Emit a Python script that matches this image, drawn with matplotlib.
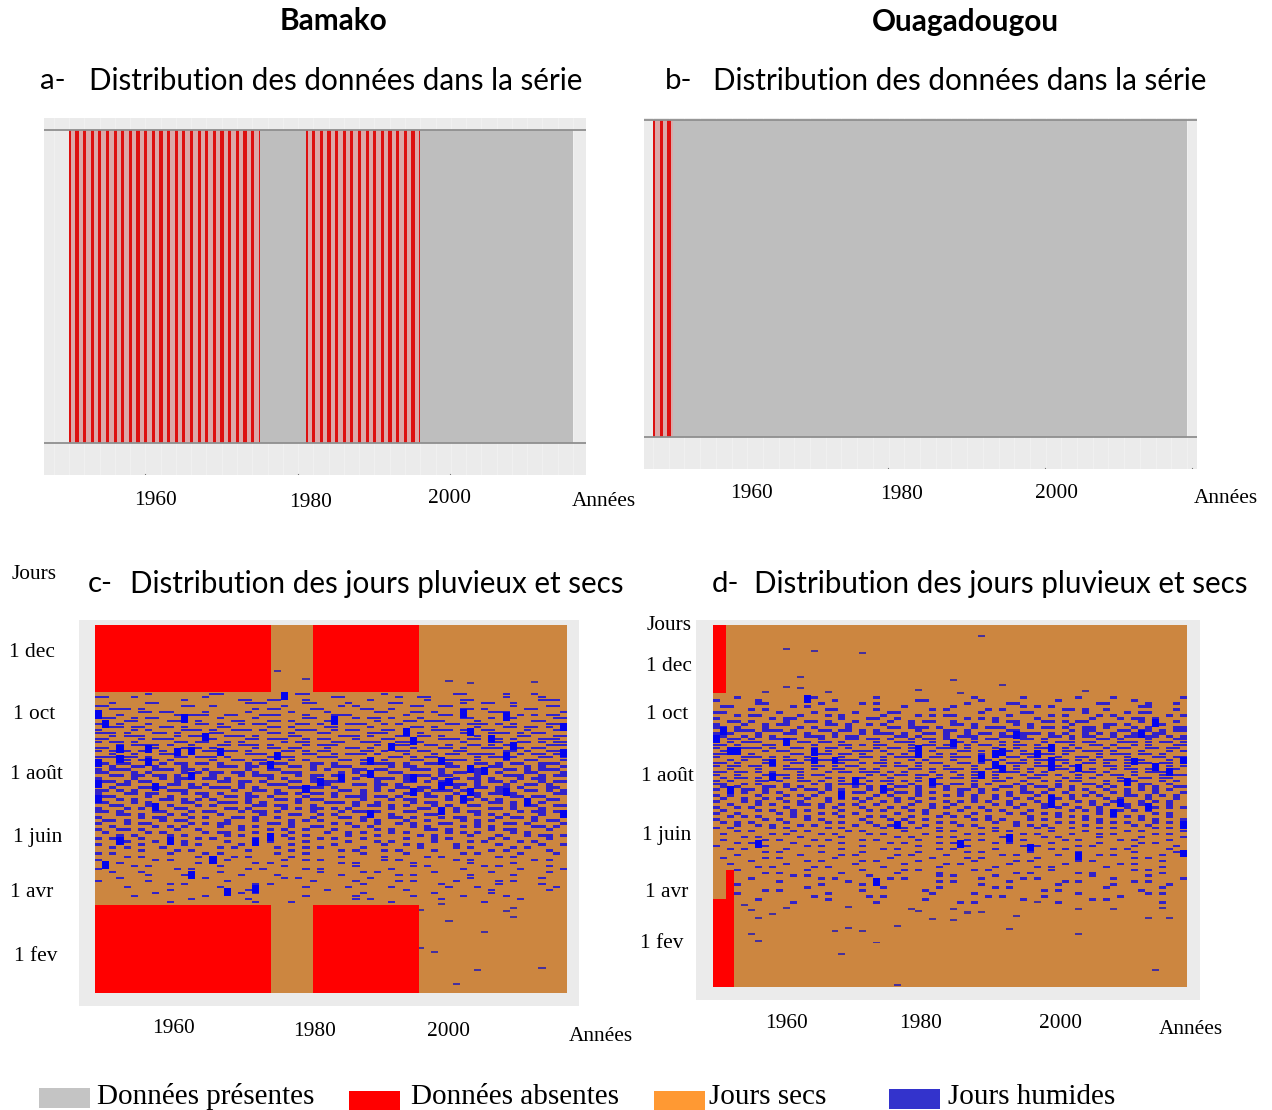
import numpy as np
import matplotlib
matplotlib.use("Agg")
import matplotlib.pyplot as plt
from matplotlib.patches import Rectangle

W, H = 1272, 1110
FIRST_YEAR = 1950

# Panels a, b : periods where the series has seasonal gaps (start, end)
bamako_gap_runs = [(1950, 1975), (1981, 1996)]
bamako_last_year = 2016
ouaga_gap_runs = [(1950, 1952.6)]
ouaga_last_year = 2018

# Panel c/d: missing blocks as (year start, year end, day start, day end)
bamako_missing = [(1950, 1974.6, 0, 88), (1950, 1974.6, 299, 366),
                  (1980.5, 1995.3, 0, 88), (1980.5, 1995.3, 299, 366)]
ouaga_missing = [(1950, 1951.9, 0, 89), (1950, 1951.9, 297, 366), (1951.9, 1953, 0, 118)]

# Wet days read as a grid: one row = 3 days, one column = one year
bamako_start_day = 299
bamako_wet = [
".......#........##..........##..........#.........##.....#...#....",
"##...#.........#.................##.......#..##..........#....#...",
"............#.......##..##...#........#.......#....##.........###.",
"..#....##............###.....##....#.....##........#..##..#.......",
"##..........##..#.........#.......#.#.......##..##........#....##.",
"..###.#...............#.##....##.....##..#.........##.#.....##....",
"#.....##.##....#.....#.....#....#......##...##.#.......###.......#",
"...#.......#.###..##...###...#...###.......#....##.#.......#.#.##.",
"###..#.##........#....#......##.....#.##.#...#.....##..#.##.....##",
"....##....###.#....##...##.#....##.....#...##.###....#.......##...",
"##.#...#......##.#..#.##....##.#...###..#.#......##.###.#.#....###",
"..##.##..##.#....##.....##.#....##....#.....##.#.....#...##.##.#..",
"#....#.#....###.#..###.#....###..#.##...##.#...###.#..##....#...##",
"###.#...##.#....##......##.#...##.....###....#.....##..###.#.##...",
"..#.###....#.##...###.#....##.....###.#...##.##.#....#.....##...##",
"##....#.###.....#....##.###..#.##...#...##......###.##.##.#...###.",
"#.##.#.....##.##..#.#.....#.##...##..###..##.#.....#....#..##.#.##",
"...#.####.#..#...##.###.#....#.###.....#.###..##.#..##.#.##....###",
"##.#....#...###.#.....#.##.##...#..##.#.....#...##.#..###..#.##...",
"#.###.##.#.....##.##.#....##.#.##....##.#.##.##...##.....##.#..###",
"..#..#...###.#...#...###.#...##..#.###.#...#...#.##.####...#.##.##",
"###.##.#...##.###.#.....#.##...###.......##.#.##.....#.##.#...##.#",
"#...#.###.#.....#..##.##...#.#....##.##.#...##...###.#...#..##...#",
"##.##....#.##.##.#...#.####...##.#...#.###.#..##.#...##.#.##..###.",
"..#..##.#...#....###.##....##.#..###.....#.##....##.#..##...#.#..#",
"#.###...###.##.#.....#..##....#.#...##.##...###.#...##...##.#.###.",
"##...#.#....#.#.##.##.#...###.....#.#.#..##.....#.##.##.#...##...#",
"..##.##.##.#....#...#.###...#.##.##..##....#.##.##...#...###..#.##",
"#....#...#.###.##.#.....#.#...#...#.#..###.#...#..#.##.#...#.##...",
"###.#.##...#.....##.##.#...##.#.###....#...##.#.##...#.##.#...#.##",
"#..##...#.##.#.#....#...###.....#...##.##.#.....#.##.#...#..##.#..",
"..#...##.#...##.###.#.#....##.##.#.....#..##.##...#..##.##.#...##.",
"##.#.#....###......#..##.#...#....##.#.#.#...#.###.#....#...##.#.#",
"#...##.##...#.##.#...#...##.#.##.#...#.....##.#...#.##.##.#.....##",
".##....#..#....#..##.##.#....#...#.###.##.#...##.#...#....##.##...",
"#..#.#...##.#.#.#....#...##.#.##.....#...#.##....#.##.#.#...#..##.",
"##...#.#....##...###.#.#....#...###.#..#....#.##...#...##.#...#...",
"..##...##.#...#.#.....##.##...#.....#.##.#.#...#.#..##....#.##..##",
"#...#.#....##.....##.#....#.#.##.#.#.....#...##...#....##.#...#...",
"##.#....##...#.##...#.##.#....#...#.##.#...##...#.#.##.....#.##.#.",
"...##.#...#.#....#.....#...##..#.#....#..#....##.....#.#.#....#..#",
"#.....#.##...#.#...##.#..#....#...##.#...##.#...#.##....#.##.#....",
".##.#....#.##.....#...#....#.#.#.....#.#...#..#....#.#.#.....#.##.",
"#...#.##.....#.#.##.....##.#.....#.#...#..#.#...##...#...##.#....#",
"..#.....#.#.#....#..#.#....#..##....#.#.....#.#....#.#.#.....##.#.",
"#..##.#....#..#.....#...#.#..#...#.....#.#....##.#.....#.##....#..",
".#.....#.#.....#.##...#....#....#..#.#...#.#.....#.#.#....#.#.....",
"...#.#....#.#.....#.#...#.#..#.....#...#.....#.#....#...#...#.##.#",
"#.#...#.......#.#.....#....#...#.#...#.....#...#.#.....#.#.....#..",
"....#...#.#.#.....#.....#....#.....#...#.#.....#....#.#....#.#....",
"#.....#.....#.#.....#.#....#.....#......#..#.#....#.....#.....#..#",
"..#.#....#.......#.#.....#...#.#.....#.......#....#.#.....#.#.....",
"......#....#.#.......#.....#......#.#...#.#....#.......#.#.....#..",
"#.#.......#....#.#.......#...#.......#.....#.......#.#.....#....#.",
"....#.#.......#....#.#.....#......#.....#.....#.#.......#.#.......",
"#.......#.#.......#.......#..#.#........#.#.......#.#........#.#..",
"...#..........#.#.....#.#.........#.#.......#.......#.....#.......",
".....#.#.........#........#.........#.......#.#.......#.#......#..",
"#..........#.#.......#.#.....#.#.........#.........#.......#.....#",
"..#...#..........#.............#.....#.#.......#.......#.......#..",
".......#....#.......#....#........#.......#.#.......#.....#.......",
"...#.........#.#..........#.#.........#.............#.........#...",
"#......#..........#...........#.....#.....#.#.....#.....#.#.......",
"..........#.#.........#.#............#..........#.......#.....#...",
"....#............#...........#.....#.....#.......#...#..........#.",
"..........#..........#..........#..........#...........#.......#..",
"........#...........#.#..............#.........#.......#..........",
".....#.........#.............#......#.......#......#.....#........",
".............#.......#..............#.#.........#..........#.......",
"..........#...........#....#.............#............#...........",
]
bamako_extra_years = [1975, 1979, 1999, 2002, 2011, 1995, 1998, 1999, 2004, 1995,
                      1997, 2003, 2012, 2000, 2007, 2008, 2008]
bamako_extra_days = [320, 312, 310, 308, 309, 83, 89, 72, 61, 45,
                     41, 23, 25, 9, 82, 85, 76]
# Long wet spells, read individually
bamako_spell_years = [1950, 1951, 1962, 1965, 1953, 1957, 1961, 1963, 1967, 1950, 1953, 1957, 1963, 1950, 1958,
                      1976, 1975, 1974, 1981, 1983, 1979, 1958, 2001, 2007, 2015, 1993, 1994, 2002, 2005, 1991,
                      2015, 1988, 1998, 2007, 2004, 2002, 1988, 1984, 1994, 1998, 1999, 1994, 2002, 2007, 2010,
                      1988, 2015, 1998, 2001, 2008, 1950, 1953, 1951, 1972, 1972, 1968, 1963, 1966, 1974, 1960]
bamako_spell_days = [277, 268, 273, 255, 243, 243, 240, 241, 240, 229, 233, 230, 216, 208, 205,
                     295, 236, 227, 210, 271, 203, 185, 278, 275, 265, 260, 251, 260, 253, 245,
                     239, 231, 231, 236, 221, 223, 218, 214, 214, 206, 210, 200, 200, 200, 190,
                     178, 178, 181, 193, 246, 193, 151, 127, 150, 103, 100, 117, 132, 155, 151]

ouaga_start_day = 294
ouaga_wet = [
"...#..........#........#.............#......#.......#....#.........#.",
"#.....#..........#...........##.......#..........#..........#.......",
"......##.......#.....#.#............#.....##...........##.....#...#..",
".##........#.#.............#......#.........#.#.#............##......",
".....#.#........##.....#.......#.#.....#.#........##.#..#.........#..",
"##.......#....#.....#....##...........#.....##.......#.....#.##......",
"...#.##.....#...#.#.....#....#.#.##.......#.....#.#....#.#.......#.##",
"#.......#.##......#...##..#.........#.#.#.....#.......#...#.##.#.....",
"..##.#....#..##.#...#....#..#.##..#.....#.##...##.#.##.......#....#.#",
"#...#..#.##.....##.#..#.#...#.....##.#.....#.#.....#....##.#...##....",
"##.#...#....#.#....#.....##.###.#....#.###...#.##.#..##.#...#.#...###",
"...###.###.#...##.##.#.#.....#...##.#.....##.......#.##...##.##.#.##.",
"#.#...#...##.#...#...#.###.#..##.#..#.##.#..###.#.#..#.#.#..#..##...#",
"##..#.#.#....###.#.##.....##.#...#.###...##.#...##.#.##..#.##.##.#.##",
"#.##.#..##.#...#...##.##.#..#.##.#...#.##...##.#...#...##.#...#...###",
"..#.###...#.##.##.#....#..###..#..##.#...#.#...#.###.##...###.#.##.#.",
"##.#...##.#...#...##.#.##...#.##.#..#.##.#.##.#....#..##.#..#.#...###",
"#...###.#..##.#.##.#...#.##.#...###.#...#..#..###.#.#...#.##..##.##.#",
".###...#.##...#.#...###.#...##.#...##.#.###.#.....##.###.#...#...#.##",
"##.#.#.....##.###.##.#...#.#.#..#.#...#.#...##.##.#....#.###.##.#...#",
"#...###.#.#..#....#..##.#.###..##.###.#...##.#...#..##.#...#...##.###",
"..#.#..##.##.#.##.###...#...#.#...#...##.#..#.##.##.#.#.##.#.#...#.##",
"##.#...#...##.#...#..#.##.#..#.##..##.#...###.#...#..##.#..#.##.##...",
"#.##.##.#.#...##.#.##...#.##.#...#...#..##.#..##.#.##...##.#...#.#.##",
"..#...#...###.#..##..#.#....##.#.###.#.#...#.#...##.#.#..#.##.#..##.#",
"##.##.#.#...#...#.##.###.#.#...#..#..##.#.##.#.#...#.##.#...#.###...#",
"#..#...#.##.#.##......#.#.##.##.#..#.#..#...#.##.#..#..#.##.#...#.##.",
".#.##.#...#.#...#.#.##...#...#..#.##.##.#.#..##...#.#.#...#..##.##..#",
"#.#...##.#..##.#..#...#.##.#.#.#.....#..##..#..#.#.##...#.#.#...#.#.#",
"##..#.#...#...#.#.##.#...#..#...#.##.#.#...#.#...#...##.#..#.##..#..#",
".#.#...##.#.#...#...#.#.#.##.#.#.#...#...##.#.##.#.#...#.#...#.#..##.",
"#...##.#...#.##.#.#...#..#...#...#.##.#.#...#...#..#.#..#..#.#.#.#..#",
"..#.#..#.#.....#..#.##..#.##.#.#...#..#...#.##.#..#...#..#.#...#...##",
"#.#...#...#.#.#...#....#.#...#...#.#.#..#.#...#.#..#.#.#...##.#.#.#..",
".#..#..#.#...#..#.#.#.#...#.#..#.....#..#..#.#...#.#....#.#...#...#.#",
"#...#.#...#.#...#....#..#.#..#...#.#.#.#..#...#.#...#.#..#...#.#.#...",
"..#...#.#...##.#..#.#..#....#..#..#.....#.#.#..#..#...#.#..#.#...#..#",
"#..#.#....#....#.#...#...#.#...#.#..#.#....#...#.#..#..#...#...#.#.#.",
".#....#.#..#.#....#...#.#...#.#....#...#.#...#.....#.#.#..#.#.#.....#",
"#..#.....#.#...#.#..#.....#...#..#...#....#.#..#.#.....#.#.....#.#..#",
"..#.#.#....#.#....#...#.#...#...#.#.#..#.....#...#.#.#...#.#.#...#...",
"#......#.#...#.#.....#...#.#..#......#.#.#...#.#.....#.#.....#.#...#.",
".#.#.#....#.....#.#...#.....#...#.#.....#..#.....#.#...#.#.#...#.#...",
"...#..#.#...#.#.....#..#.#....#....#.#.....#.#.#.....#......#.#....#.",
"#.#.....#.#.....#.#.....#..#.#..#.....#.#.....#.#..#...#.#.....#.#...",
"...#.#.....#.#.....#.#.....#....#.#.....#.#.....#....#.....#.#.....#.",
".#......#.#....#.#....#.#.....#.....#.#.....#.#....#...#.#.....#.#...",
"....#.#.....#.....#.......#.#...#.#......#.....#.#.....#.....#.....#.",
".#.....#.#....#.#....#.#.....#......#.#.....#.....#.#.....#.#....#...",
"...#.#.....#......#......#.#....#.#.....#.#.....#......#.....#.#.....",
"#......#.....#.#.....#.......#......#.......#.#.....#.#.....#.....#.#",
"..#.#.....#.......#.....#.#.....#.#.....#.......#.#......#.#.....#...",
".......#.#.....#.....#.......#......#.#......#......#.......#.....#..",
"...#........#.....#.#.....#.#....#.......#.#.....#.....#.#......#....",
".#.....#.#.......#.......#.....#....#.#.......#.....#.......#.#.....#",
".....#.......#.#.....#.#.....#.......#.....#.#......#.#.........#....",
"..#.......#.........#......#.....#.#......#.......#.......#.#.......#",
"......#.#.....#.#.......#.......#.......#.....#.#.......#.......#....",
"...#.........#.......#.....#.#.......#.#........#...........#.#......",
".......#.#........#.......#.....#..........#.#......#.#.........#....",
"...........#.#........#.........#.#.....#.............#.......#......",
".....#.........#.#.......#.#..........#.....#.#..........#.........#.",
".........#.........#............#.#.......#.......#.#.......#.#......",
"...#...........#.....#.#..............#..........#.......#.......#...",
".............#..........#.......#.......#.#.............#.......#....",
".......#.#...........#........#................#.#...........#.......",
"...#............#..............#.....#..............#.........#.#....",
"..............#.......#.#..............#.#.....#..........#.........#",
"......#.........#.............#.............#.........#.#............",
"...........#...........#...........#.#...........#..............#....",
]
ouaga_extra_years = [1960, 1964, 1971, 1962, 1960, 1962, 1957, 1966, 1979, 1988, 1984, 1991,
                     2003, 1985, 1984, 1986, 1986, 1988, 1984, 1993, 1992, 2002, 2002, 2007,
                     2012, 2014, 2015, 2013, 1996, 1954, 1955, 1956, 1958, 1960, 1955, 1956,
                     1969, 1967, 1969, 1971, 1973, 1968, 1976, 1976, 1978, 1979, 1981]
ouaga_extra_days = [342, 340, 338, 313, 303, 302, 298, 298, 300, 355, 310, 305,
                    299, 297, 79, 75, 76, 76, 68, 72, 59, 79, 54, 79,
                    70, 80, 70, 17, 86, 83, 78, 70, 74, 80, 54, 47,
                    81, 57, 60, 57, 45, 33, 62, 2, 79, 77, 69]
ouaga_spell_years = [1950, 1952, 1953, 1958, 1958, 1964, 1964, 1979, 1979, 1970, 1968, 1981, 1960, 1951, 1967,
                     1952, 1974, 1963, 1998, 1998, 1998, 2011, 1996, 1988, 1988, 1990, 1991, 1990, 1991, 2002,
                     2010, 2013, 2017, 2015, 2009, 2008, 1998, 2012, 1993, 1984, 2007, 1998, 2013, 2017, 1992,
                     2017, 1995, 2002, 1985, 1956, 1973, 1976]
ouaga_spell_days = [251, 239, 239, 227, 212, 238, 229, 241, 236, 208, 194, 207, 248, 259, 229,
                    199, 200, 291, 242, 229, 222, 256, 236, 231, 214, 236, 238, 224, 220, 221,
                    228, 222, 229, 217, 207, 186, 190, 182, 255, 247, 176, 185, 267, 164, 151,
                    135, 141, 132, 145, 145, 106, 164]

# Text
tick_years = ["1960", "1980", "2000"]
day_labels = ["1 dec", "1 oct", "1 août", "1 juin", "1 avr", "1 fev"]
legend_labels = ["Données présentes", "Données absentes", "Jours secs", "Jours humides"]

GRAY = "#bebebe"; RED = "#ff0000"; DRY = "#cc8640"; PANEL = "#ebebeb"
SERIF = "Liberation Serif"; SANS = "Lato"

fig = plt.figure(figsize=(W / 100, H / 100), dpi=100, facecolor="white")


def px_axes(x0, y0, x1, y1):
    ax = fig.add_axes([x0 / W, 1 - y1 / H, (x1 - x0) / W, (y1 - y0) / H], facecolor=PANEL)
    for s in ax.spines.values():
        s.set_visible(False)
    ax.set_xticks([]); ax.set_yticks([])
    return ax


def txt(x, y, s, size=15.4, family=SERIF, ha="center", **kw):
    fig.text(x / W, 1 - (y + 1.5) / H, s, fontsize=size, family=family, ha=ha, va="center", color="black", **kw)


def presence_panel(box, band, px_start, px_end, gap_runs, last_year, ticks_px):
    x0, y0, x1, y1 = box
    scale = (px_end - px_start) / (last_year - FIRST_YEAR)
    ax = px_axes(*box)
    ax.set_xticks(np.arange(1946, 2022, 2))
    ax.grid(axis="x", color="white", lw=0.5, alpha=0.4, zorder=0)
    ax.tick_params(length=0, labelbottom=False, labelleft=False)
    xlim = (FIRST_YEAR - (px_start - x0) / scale, FIRST_YEAR + (x1 - px_start) / scale)
    ylim = ((band[1] - y1) / (band[1] - band[0]), (band[1] - y0) / (band[1] - band[0]))
    ax.fill_betweenx([0, 1], FIRST_YEAR, last_year, color=GRAY, lw=0, zorder=2)
    for start, end in gap_runs:
        # April-October present (blurred pink), November-March absent (red)
        ax.fill_betweenx([0, 1], start, end, color="#dba9a9", lw=0, zorder=3)
        for yr in range(int(start), int(np.ceil(end)) + 1):
            a, b = max(yr - 0.17, start), min(yr + 0.25, end)
            if b > a:
                ax.fill_betweenx([0, 1], a, b, color="#dd1010", lw=0, zorder=4)
    ax.axhline(0, color="#8f8f8f", lw=1.3, zorder=5)
    ax.axhline(1, color="#8f8f8f", lw=1.3, zorder=5)
    for t in ticks_px:
        ax.plot([FIRST_YEAR + (t - px_start) / scale] * 2, [ylim[0], ylim[0] + 0.004],
                color="#777777", lw=0.8, zorder=5)
    ax.set_xlim(*xlim)
    ax.set_ylim(*ylim)
    return ax


def rain_panel(box, data_box, years_n, wet, start_day, missing, ex_y, ex_d, sp_y, sp_d):
    x0, y0, x1, y1 = box
    dx0, dy0, dx1, dy1 = data_box
    sx = (dx1 - dx0) / years_n
    sy = (dy1 - dy0) / 366
    ax = px_axes(*box)
    ax.fill_between([FIRST_YEAR, FIRST_YEAR + years_n], 0, 366, color=DRY, lw=0, zorder=1)
    grid = np.array([[c == "#" for c in r.ljust(years_n, ".")[:years_n]] for r in wet])
    rows, cols = np.nonzero(grid)
    ax.bar(FIRST_YEAR + cols, 2.5, bottom=start_day - 3.0 * (rows + 1) + 0.25, width=1, align="edge",
           color="#3222c8", lw=0, zorder=2)
    ax.bar(np.array(ex_y), 2, bottom=np.array(ex_d) - 1, width=1, align="edge", color="#46309c", lw=0, zorder=2)
    ax.bar(np.array(sp_y), 8, bottom=np.array(sp_d) - 4, width=1, align="edge", color="#0404ee", lw=0, zorder=2)
    for a, b, c, d in missing:
        ax.fill_between([a, b], c, d, color=RED, lw=0, zorder=3)
    ax.set_xlim(FIRST_YEAR - (dx0 - x0) / sx, FIRST_YEAR + (x1 - dx0) / sx)
    ax.set_ylim(-(y1 - dy1) / sy, 366 + (dy0 - y0) / sy)
    return ax


# Panels
presence_panel((44, 118, 586, 475), (130, 443), 69, 573, bamako_gap_runs, bamako_last_year, (145, 298, 450))
presence_panel((644, 118, 1197, 469), (120, 437), 653, 1187, ouaga_gap_runs, ouaga_last_year, (888, 1045, 1192))
rain_panel((79, 620, 579, 1006), (95, 625, 567, 993), 66, bamako_wet, bamako_start_day, bamako_missing,
           bamako_extra_years, bamako_extra_days, bamako_spell_years, bamako_spell_days)
rain_panel((696, 620, 1200, 1000), (713, 625, 1187, 987), 68, ouaga_wet, ouaga_start_day, ouaga_missing,
           ouaga_extra_years, ouaga_extra_days, ouaga_spell_years, ouaga_spell_days)

# Titles
txt(333, 20, "Bamako", size=21.4, family=SANS, fontweight="bold")
txt(965, 20, "Ouagadougou", size=21.4, family=SANS, fontweight="bold")
for x1, x2, y, tag, title in [
    (40, 89, 79.5, "a-", "Distribution des données dans la série"),
    (665, 713, 79.5, "b-", "Distribution des données dans la série"),
    (88, 130, 582.5, "c-", "Distribution des jours pluvieux et secs"),
    (712, 754, 582.5, "d-", "Distribution des jours pluvieux et secs"),
]:
    txt(x1, y, tag, size=21.2, family=SANS, ha="left")
    txt(x2, y, title, size=21.3, family=SANS, ha="left")

# Axis texts
for xs, ys, ax_x, ax_y in [
    ((155, 311, 450), (499, 501, 497), 604, 500),
    ((751, 902, 1056), (492, 493, 492), 1226, 497),
    ((173, 315, 449), (1027, 1030, 1030), 601, 1035),
    ((786, 921, 1060), (1022, 1022, 1022), 1191, 1028),
]:
    for x, y, s in zip(xs, ys, tick_years):
        txt(x, y, s)
    txt(ax_x, ax_y, "Années")

txt(34, 573, "Jours")
txt(669, 624, "Jours")
for x, y, s in zip((32, 34, 36, 38, 32, 36), (651, 713, 773, 836, 891, 955), day_labels):
    txt(x, y, s)
for x, y, s in zip((669, 667, 667, 667, 667, 662), (665, 713, 775, 834, 891, 942), day_labels):
    txt(x, y, s)

# Legend
for (x, y, c, tx), s in zip([(39, 1088, "#c4c4c4", 97), (349, 1091, "#ff0000", 411),
                             (654, 1091, "#ff9933", 709), (889, 1089, "#3333cc", 948)], legend_labels):
    fig.add_artist(Rectangle((x / W, 1 - (y + 20) / H), 51 / W, 20 / H, transform=fig.transFigure, color=c, lw=0))
    txt(tx, 1095, s, size=21, ha="left")

fig.savefig("out.png", dpi=100)
